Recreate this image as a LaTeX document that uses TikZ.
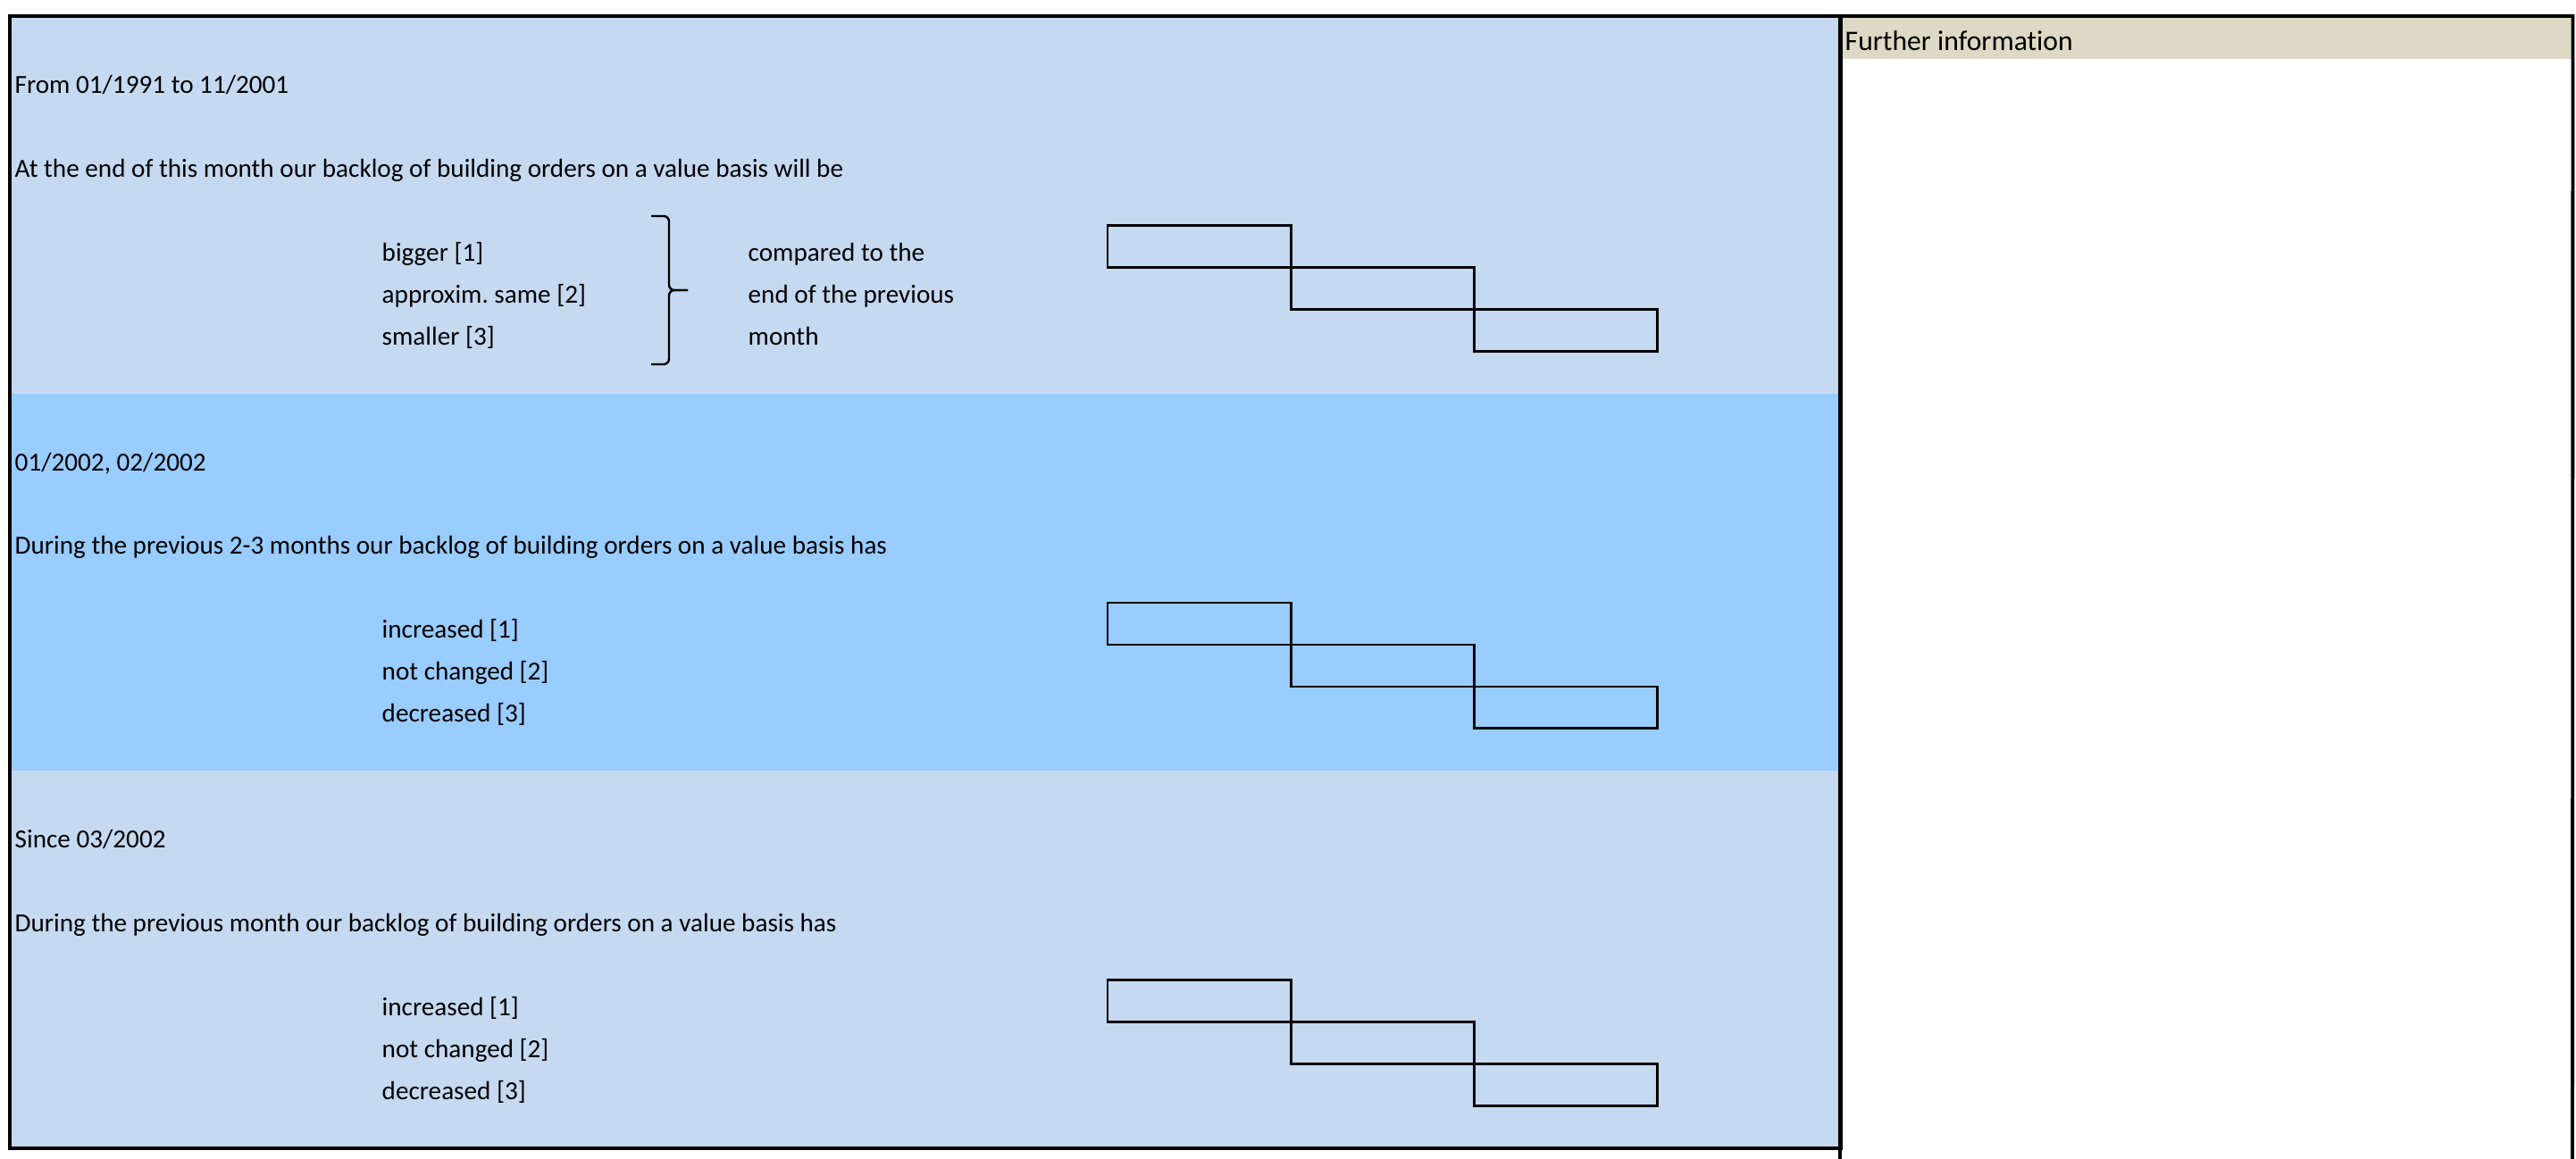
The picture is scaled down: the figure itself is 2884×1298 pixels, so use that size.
\documentclass[tikz,border=0pt]{standalone}
\usepackage{fontspec}
\setmainfont{Carlito}[Ligatures={NoCommon,NoContextual}]
\usetikzlibrary{positioning}
\definecolor{secblue}{RGB}{197,217,241}
\definecolor{secsky}{RGB}{153,204,255}
\definecolor{infotan}{RGB}{221,217,196}
\frenchspacing

\begin{document}
\begin{tikzpicture}[
    x=0.01cm, y=-0.01cm,
    node distance=0pt,
    section/.style={rectangle, fill=#1, minimum width=20.49cm, minimum height=4.2233cm, inner sep=0pt, outer sep=0pt, anchor=north west},
    txt/.style={anchor=base west, inner sep=0pt, yshift=-0.02cm, font=\fontsize{8.3}{10}\selectfont},
    answerbox/.style={rectangle, draw=black, line width=0.8pt, minimum width=2.05cm, minimum height=0.4693cm, inner sep=0pt, outer sep=0pt, anchor=north west},
    frame/.style={draw=black, line width=1.1pt},
    bracket/.style={draw=black, line width=0.7pt, rounded corners=0.06cm}
]
\useasboundingbox (0,0) rectangle (2884,1298);

% Three question blocks
\node[section=secblue] (sec1) at (11,18) {};
\node[section=secsky, below=of sec1] (sec2) {};
\node[section=secblue, below=of sec2] (sec3) {};

% Side panel
\node[rectangle, fill=infotan, minimum width=8.2cm, minimum height=0.48cm, inner sep=0pt, outer sep=0pt, anchor=north west] (infohead) at (2060,18) {};
\node[txt, font=\fontsize{9}{11}\selectfont] (infotext) at (2065,55) {Further information};

% Frames
\draw[frame] (sec1.north west) rectangle (sec3.south east);
\draw[frame] (2060,1310) -- (infohead.north west) -- (infohead.north east) -- (2880,1310);

% Block 1
\node[txt] (period1) at (16,102.9) {From 01/1991 to 11/2001};
\node[txt] (quest1) at (16,196.7) {At the end of this month our backlog of building orders on a value basis will be};
\node[txt] (opt11) at (427,290.6) {bigger [1]};
\node[txt] (opt12) at (427,337.5) {approxim. same [2]};
\node[txt] (opt13) at (427,384.4) {smaller [3]};
\node[txt] (cmp1) at (837,290.6) {compared to the};
\node[txt] (cmp2) at (837,337.5) {end of the previous};
\node[txt] (cmp3) at (837,384.4) {month};

% Bracket joining the answers to the comparison
\coordinate (bracetop) at (729,242);
\coordinate (bracetip) at (770,325);
\coordinate (bracebot) at (729,408);
\draw[bracket] (bracetop) -- (749,242) -- (749,325) -- (bracetip);
\draw[bracket] (bracebot) -- (749,408) -- (749,325) -- (bracetip);

\node[answerbox] (box11) at (1240,252.6) {};
\node[answerbox] (box12) at (box11.south east) {};
\node[answerbox] (box13) at (box12.south east) {};

% Block 2
\node[txt] (period2) at (16,525.2) {01/2002, 02/2002};
\node[txt] (quest2) at (16,619.0) {During the previous 2-3 months our backlog of building orders on a value basis has};
\node[txt] (opt21) at (427,712.9) {increased [1]};
\node[txt] (opt22) at (427,759.8) {not changed [2]};
\node[txt] (opt23) at (427,806.8) {decreased [3]};

\node[answerbox] (box21) at (1240,675.0) {};
\node[answerbox] (box22) at (box21.south east) {};
\node[answerbox] (box23) at (box22.south east) {};

% Block 3
\node[txt] (period3) at (16,947.5) {Since 03/2002};
\node[txt] (quest3) at (16,1041.4) {During the previous month our backlog of building orders on a value basis has};
\node[txt] (opt31) at (427,1135.2) {increased [1]};
\node[txt] (opt32) at (427,1182.2) {not changed [2]};
\node[txt] (opt33) at (427,1229.1) {decreased [3]};

\node[answerbox] (box31) at (1240,1097.3) {};
\node[answerbox] (box32) at (box31.south east) {};
\node[answerbox] (box33) at (box32.south east) {};

\end{tikzpicture}
\end{document}
